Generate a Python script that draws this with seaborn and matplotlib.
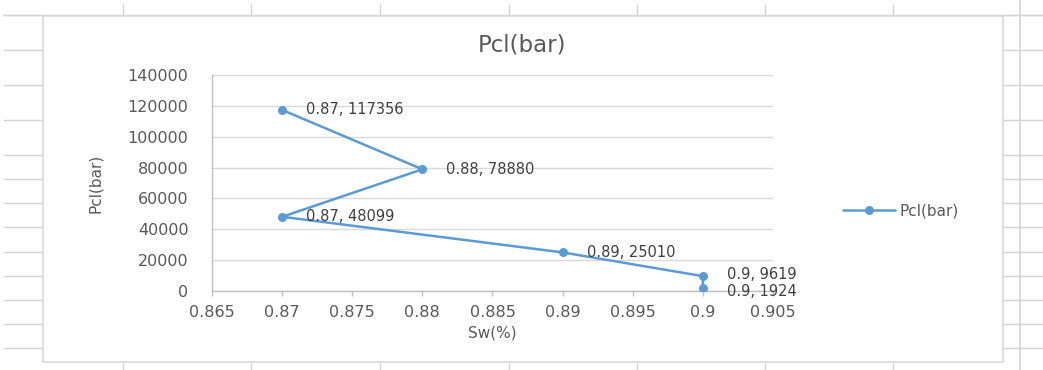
import matplotlib
matplotlib.use("Agg")
import matplotlib.pyplot as plt
import seaborn as sns
import pandas as pd
from matplotlib.patches import Rectangle

# Capillary pressure vs water saturation
sw = [0.87, 0.88, 0.87, 0.89, 0.9, 0.9]
pcl = [117356, 78880, 48099, 25010, 9619, 1924]
series_name = "Pcl(bar)"
x_ticks = [0.865, 0.87, 0.875, 0.88, 0.885, 0.89, 0.895, 0.9, 0.905]
x_tick_labels = ["0.865", "0.87", "0.875", "0.88", "0.885", "0.89", "0.895", "0.9", "0.905"]
y_ticks = [0, 20000, 40000, 60000, 80000, 100000, 120000, 140000]
y_tick_labels = ["0", "20000", "40000", "60000", "80000", "100000", "120000", "140000"]

df = pd.DataFrame({"Sw": sw, "Pcl": pcl})

sns.set_theme(style="white")
plt.rcParams["font.family"] = ["DejaVu Sans"]

W, H = 1043, 370
fig = plt.figure(figsize=(W / 100, H / 100), dpi=100)
fig.patch.set_facecolor("white")

# Worksheet backdrop (pixel coordinates)
bg = fig.add_axes([0, 0, 1, 1], zorder=-5)
bg.set_xlim(0, W)
bg.set_ylim(H, 0)
bg.axis("off")
sheet = "#d4d4d4"
rows = [15, 50, 85, 120, 155, 179, 203, 227, 252, 276, 300, 324, 348]
cols = [123, 251, 380, 509, 637, 765, 893]
for r in rows:
    bg.hlines(r, 3, 43, color=sheet, lw=1)
    bg.hlines(r, 1003, W, color=sheet, lw=1)
bg.hlines(15, 3, W, color=sheet, lw=1)
for c in cols:
    bg.vlines(c, 4, 15, color=sheet, lw=1)
    bg.vlines(c, 362, H, color=sheet, lw=1)
bg.vlines(1020, 0, H, color=sheet, lw=1.2)
bg.add_patch(Rectangle((43, 16), 1003 - 43, 362 - 16, facecolor="white",
                       edgecolor="#d9d9d9", lw=1.2, zorder=2))

# Plot area
ax = fig.add_axes([212 / W, 1 - 291 / H, (773 - 212) / W, (291 - 75) / H])
ax.set_facecolor("none")
blue = "#5B9BD5"
sns.lineplot(data=df, x="Sw", y="Pcl", sort=False, estimator=None,
             marker="o", markersize=6.5, markeredgewidth=0, color=blue,
             linewidth=1.8, ax=ax, label=series_name, legend=False, zorder=3)

ax.set_xlim(0.865, 0.905)
ax.set_ylim(0, 140000)
ax.set_xticks(x_ticks)
ax.set_xticklabels(x_tick_labels)
ax.set_yticks(y_ticks)
ax.set_yticklabels(y_tick_labels)

text_c = "#595959"
ax.tick_params(axis="x", direction="out", length=3.6, width=1, color="#bfbfbf",
               pad=6.5, labelsize=11.5, labelcolor=text_c, bottom=True)
ax.tick_params(axis="y", length=0, pad=17, labelsize=11.5, labelcolor=text_c)
ax.yaxis.grid(True, color="#d9d9d9", lw=1)
ax.xaxis.grid(False)
for s in ["top", "right"]:
    ax.spines[s].set_visible(False)
for s in ["left", "bottom"]:
    ax.spines[s].set_color("#bfbfbf")
    ax.spines[s].set_linewidth(1)

ax.set_xlabel("Sw(%)", fontsize=11, color=text_c)
ax.set_ylabel("Pcl(bar)", fontsize=11, color=text_c)
ax.xaxis.set_label_coords(0.5, -0.16)
ax.yaxis.set_label_coords(-0.195, 0.5)

# Data labels; the two stacked labels at Sw=0.9 are nudged apart slightly
nudge = [0, 0, 0, 0, 2, -3]
for xv, yv, dy in zip(sw, pcl, nudge):
    ax.annotate(f"{xv:g}, {yv}", (xv, yv), xytext=(24, dy), textcoords="offset pixels",
                va="center", ha="left", fontsize=10.5, color="#404040", zorder=4)

fig.text(522 / W, 1 - 45 / H, "Pcl(bar)", ha="center", va="center",
         fontsize=16.5, color=text_c)

handles, labels = ax.get_legend_handles_labels()
fig.legend(handles, labels, loc="center left", bbox_to_anchor=(843 / W, 1 - 211 / H),
           frameon=False, borderpad=0, borderaxespad=0, handlelength=3.4,
           handletextpad=0.3, fontsize=11, labelcolor=text_c)

fig.savefig("out.png", dpi=100, facecolor="white")
